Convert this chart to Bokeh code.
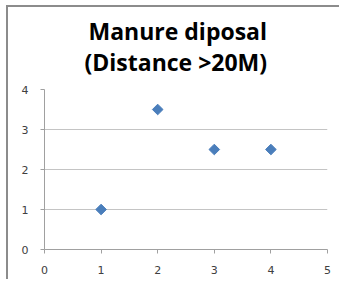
from bokeh.plotting import figure
from bokeh.models import Range1d, Title, FixedTicker
from bokeh.embed import file_html
from bokeh.resources import INLINE

x_vals = [1, 2, 3, 4]
y_vals = [1, 3.5, 2.5, 2.5]
x_ticks = [0, 1, 2, 3, 4, 5]
y_ticks = [0, 1, 2, 3, 4]
title_line1 = "Manure diposal"
title_line2 = "(Distance >20M)"

p = figure(width=333, height=274, output_backend="svg", toolbar_location=None,
           x_range=Range1d(0, 5), y_range=Range1d(0, 4),
           min_border_left=36, min_border_right=14, min_border_top=82, min_border_bottom=32,
           styles={"margin-left": "6px", "margin-top": "5px",
                   "border-left": "2px solid #8c8c8c", "border-top": "2px solid #8c8c8c"})
p.title = None
p.outline_line_color = None
p.background_fill_color = "white"
p.border_fill_color = "white"

p.add_layout(Title(text=title_line2, text_font="Open Sans", text_font_style="bold",
                   text_font_size="23px", align="left", text_color="black",
                   standoff=24, offset=40), "above")
p.add_layout(Title(text=title_line1, text_font="Open Sans", text_font_style="bold",
                   text_font_size="23px", align="left", text_color="black",
                   standoff=-31, offset=44), "above")

p.xgrid.grid_line_color = None
p.ygrid.grid_line_color = "#c4c4c4"
p.ygrid.grid_line_width = 1

for ax in (p.xaxis[0], p.yaxis[0]):
    ax.axis_line_color = "#a0a0a0"
    ax.major_tick_line_color = "#a0a0a0"
    ax.major_tick_in = 0
    ax.major_tick_out = 4
    ax.minor_tick_line_color = None
    ax.major_label_text_font = "DejaVu Sans"
    ax.major_label_text_font_size = "11px"
    ax.major_label_text_color = "#404040"

p.xaxis.ticker = FixedTicker(ticks=x_ticks)
p.yaxis.ticker = FixedTicker(ticks=y_ticks)
p.xaxis.major_label_standoff = 12
p.yaxis.major_label_standoff = 12

p.scatter(x_vals, y_vals, marker="square", angle=0.785398, size=7.5,
          fill_color="#4a7ebb", line_color="#4a7ebb")

open("out.html", "w").write(file_html(p, INLINE))
